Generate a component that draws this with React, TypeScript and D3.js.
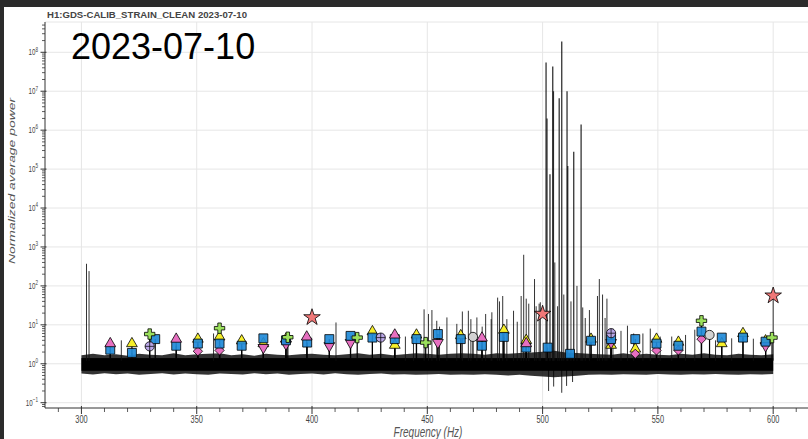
import React from 'react';
import * as d3 from 'd3';

// ---------- data ----------
const xTickValues = [300, 350, 400, 450, 500, 550, 600];
const yTickExponents = [-1, 0, 1, 2, 3, 4, 5, 6, 7, 8];

// noise floor envelope (outer fuzzy edge) and dense core
const bandFreqs = [300, 305, 310, 315, 320, 325, 330, 335, 340, 345, 350, 355, 360, 365, 370, 375, 380, 385, 390, 395, 400, 405, 410, 415, 420, 425, 430, 435, 440, 445, 450, 455, 460, 465, 470, 475, 480, 485, 490, 495, 500, 505, 510, 515, 520, 525, 530, 535, 540, 545, 550, 555, 560, 565, 570, 575, 580, 585, 590, 595, 600];
const bandUpper = [1.65, 1.8, 1.65, 1.75, 1.6, 1.8, 1.7, 1.65, 1.85, 1.65, 1.75, 1.8, 1.85, 1.65, 1.75, 1.6, 1.8, 1.7, 1.65, 1.75, 1.8, 1.7, 1.65, 1.75, 1.85, 1.7, 1.8, 1.65, 1.75, 1.85, 1.8, 1.7, 1.8, 1.85, 1.8, 1.7, 1.85, 1.8, 1.9, 1.95, 2.05, 2.15, 1.95, 1.9, 1.8, 1.75, 1.7, 1.85, 1.7, 1.8, 1.7, 1.65, 1.8, 1.7, 1.85, 1.7, 1.65, 1.8, 1.7, 1.65, 1.75];
const bandLower = [0.56, 0.53, 0.57, 0.54, 0.56, 0.52, 0.55, 0.57, 0.53, 0.56, 0.54, 0.52, 0.56, 0.55, 0.53, 0.57, 0.54, 0.56, 0.52, 0.55, 0.56, 0.53, 0.57, 0.54, 0.52, 0.55, 0.56, 0.53, 0.54, 0.52, 0.53, 0.55, 0.52, 0.53, 0.52, 0.54, 0.52, 0.5, 0.52, 0.49, 0.47, 0.45, 0.47, 0.49, 0.52, 0.53, 0.52, 0.54, 0.53, 0.52, 0.55, 0.53, 0.52, 0.54, 0.53, 0.55, 0.53, 0.52, 0.54, 0.53, 0.55];
const coreUpper = 1.4;
const coreLower = 0.66;

// spectral lines [frequency Hz, normalized power]
const spikes: [number, number][] = [
  [302.2, 370], [303.3, 240], [317.3, 4.0], [357.3, 6.0], [410.4, 11.5],
  [440.5, 5], [444.0, 6], [448.6, 25], [450.5, 19], [452.0, 24], [454.1, 12.7], [455.3, 9],
  [458.5, 15.5], [462.8, 10.6], [465.2, 22], [467.8, 23], [468.9, 14], [471.5, 15.5],
  [473.8, 9], [475.3, 19], [477.7, 14], [478.0, 21], [480.5, 50], [481.3, 40], [482.7, 55],
  [484.5, 14], [487.4, 23], [489.0, 12], [490.7, 55], [491.8, 630], [492.9, 47], [494.0, 35],
  [496.5, 150], [497.2, 30], [498.5, 35], [499.0, 38],
  [501.5, 5.5e7], [501.9, 2e6], [503.2, 7.4e4], [504.4, 4.3e7], [504.7, 1e7], [505.3, 400],
  [506.5, 30], [507.2, 6.6e6], [508.3, 1.9e8], [509.2, 60], [510.6, 1e7], [510.9, 1.2e5],
  [512.3, 40], [513.5, 2.8e5], [514.9, 100], [516.7, 1.4e6], [517.4, 28], [518.5, 15],
  [520.3, 24], [523.8, 55], [524.6, 150], [526.0, 60], [527.1, 15], [527.9, 47], [530.5, 8],
  [534.0, 7], [536.8, 9.5], [539.5, 6], [543.5, 6], [546.7, 8], [551, 5], [556, 5],
  [562, 5.5], [566, 7.5], [575, 4], [582, 4.5], [591.4, 4.4], [600, 56],
];
const downSpikes: [number, number][] = [
  [502.6, 0.2], [504.8, 0.26], [508.3, 0.18], [510.4, 0.27], [513.0, 0.34],
];

const blueSquares: [number, number][] = [
  [312.5, 2.3], [321.9, 1.9], [332.0, 4.3], [341.1, 2.9], [350.5, 3.3], [359.9, 3.3],
  [369.5, 2.9], [378.9, 4.5], [388.7, 4.0], [397.9, 3.5], [407.5, 4.3], [416.7, 5.2],
  [426.2, 4.7], [435.9, 4.3], [445.3, 4.3], [454.6, 5.8], [464.5, 4.3], [473.7, 2.9],
  [483.2, 4.9], [492.9, 2.6], [502.2, 2.6], [511.9, 1.8], [521.0, 3.9], [529.7, 4.3],
  [540.2, 4.3], [549.4, 3.3], [558.9, 2.9], [568.9, 6.7], [577.7, 4.7], [586.9, 4.7],
  [596.7, 3.7],
];
const yellowTriangles: [number, number][] = [
  [321.9, 3.3], [350.5, 4.3], [359.9, 4.9], [369.5, 3.9], [378.9, 3.3], [388.7, 4.3],
  [426.2, 6.7], [435.9, 3.0], [445.3, 5.5], [464.5, 5.3], [483.2, 7.3], [492.9, 4.0],
  [521.0, 4.3], [529.7, 3.0], [540.2, 2.4], [549.4, 4.3], [558.9, 3.6], [577.7, 3.3],
  [586.9, 6.0], [596.7, 3.9],
];
const pinkTriangles: [number, number][] = [
  [312.5, 3.3], [341.1, 4.3], [397.7, 4.9], [435.9, 5.5], [473.7, 4.6], [492.9, 3.3],
];
const pinkInverted: [number, number][] = [
  [378.9, 2.6], [388.7, 3.2], [407.5, 2.9], [416.7, 3.5], [454.6, 3.5], [529.7, 3.5], [596.7, 2.9],
];
const pinkDiamonds: [number, number][] = [
  [350.5, 2.1], [359.9, 2.2], [540.2, 1.8], [549.4, 2.2], [558.9, 2.2], [568.9, 4.3],
];
const greenCrosses: [number, number][] = [
  [329.6, 5.8], [359.9, 8.2], [389.5, 4.8], [419.6, 4.7], [449.3, 3.5], [568.9, 12.7], [599.5, 4.7],
];
const lavenderCircles: [number, number][] = [[329.6, 2.8], [429.8, 4.7], [529.7, 6.1]];
const greyCircles: [number, number][] = [[469.8, 4.9], [572.4, 5.5]];
const redStars: [number, number][] = [[400, 15.5], [500, 19], [600, 56]];

// ---------- layout ----------
const W = 808, H = 439;
const plotL = 45, plotT = 22, plotR = 808, plotB = 408;
const SY = 1.45; // vertical stretch of the plot texts
const FONT = '"Liberation Sans", Arial, Helvetica, sans-serif';

const x = d3.scaleLinear().domain([284.2, 615.1]).range([plotL, plotR]);
const y = d3.scaleLog().domain([Math.pow(10, -1.136), Math.pow(10, 8.778)]).range([plotB, plotT]);

const sym = (t: d3.SymbolType, s: number) => d3.symbol().type(t).size(s)() as string;

export default function App() {
  const bandArea = d3.area<number>()
    .x((d) => x(d))
    .y0((_, i) => y(bandLower[i]))
    .y1((_, i) => y(bandUpper[i]))(bandFreqs) as string;

  const xMinor = d3.range(290, 615, 10).filter((v) => v % 50 !== 0);
  const yMinor: number[] = [];
  for (let e = -2; e <= 8; e++) for (let k = 2; k <= 9; k++) {
    const v = k * Math.pow(10, e);
    const py = y(v);
    if (py >= plotT && py <= plotB) yMinor.push(v);
  }

  const allMarks = [
    ...blueSquares, ...yellowTriangles, ...pinkTriangles, ...pinkInverted,
    ...pinkDiamonds, ...greenCrosses, ...lavenderCircles, ...greyCircles,
  ];

  const triPath = sym(d3.symbolTriangle, 50);
  const sqPath = sym(d3.symbolSquare, 80);
  const crossPath = sym(d3.symbolCross, 60);
  const starPath = sym(d3.symbolStar, 85);
  const diamPath = sym(d3.symbolDiamond2, 55);
  const f0 = bandFreqs[0], f1 = bandFreqs[bandFreqs.length - 1];

  return (
    <svg width={W} height={H} style={{ position: 'absolute', left: 0, top: 0, display: 'block', background: '#fff' }} fontFamily={FONT}>
      <rect x={0} y={0} width={W} height={H} fill="#fff" />
      {/* grid */}
      {xTickValues.map((v) => (
        <line key={'gx' + v} x1={x(v)} x2={x(v)} y1={plotT} y2={plotB} stroke="#e6e6e6" strokeWidth={1} />
      ))}
      {yTickExponents.map((e) => (
        <line key={'gy' + e} x1={plotL} x2={plotR} y1={y(Math.pow(10, e))} y2={y(Math.pow(10, e))} stroke="#e6e6e6" strokeWidth={1} />
      ))}
      <line x1={plotL} x2={plotR} y1={plotT} y2={plotT} stroke="#e6e6e6" />

      {/* noise band */}
      <path d={bandArea} fill="#000" fillOpacity={0.8} />
      <rect x={x(f0)} width={x(f1) - x(f0)} y={y(coreUpper)} height={y(coreLower) - y(coreUpper)} fill="#000" />
      {/* spectral lines */}
      {spikes.map(([f, v], i) => (
        <line key={'s' + i} x1={x(f)} x2={x(f)} y1={y(1.2)} y2={y(v)} stroke="#111" strokeOpacity={0.85} strokeWidth={v > 1000 ? 1.3 : 1} />
      ))}
      {downSpikes.map(([f, v], i) => (
        <line key={'d' + i} x1={x(f)} x2={x(f)} y1={y(0.8)} y2={y(v)} stroke="#000" strokeOpacity={0.8} strokeWidth={1} />
      ))}
      {allMarks.map(([f, v], i) => (
        <line key={'m' + i} x1={x(f)} x2={x(f)} y1={y(1.4)} y2={y(v)} stroke="#000" strokeWidth={1.2} />
      ))}

      {/* markers */}
      {yellowTriangles.map(([f, v], i) => (
        <path key={'yt' + i} d={triPath} transform={`translate(${x(f)},${y(v)})`} fill="#f6ef2a" stroke="#000" strokeWidth={0.8} />
      ))}
      {pinkInverted.map(([f, v], i) => (
        <path key={'pi' + i} d={triPath} transform={`translate(${x(f)},${y(v)}) rotate(180)`} fill="#e66fc0" stroke="#000" strokeWidth={0.8} />
      ))}
      {pinkDiamonds.map(([f, v], i) => (
        <path key={'pd' + i} d={diamPath} transform={`translate(${x(f)},${y(v)})`} fill="#e66fc0" stroke="#000" strokeWidth={0.8} />
      ))}
      {blueSquares.map(([f, v], i) => (
        <path key={'bs' + i} d={sqPath} transform={`translate(${x(f)},${y(v)})`} fill="#1f8ad8" fillOpacity={0.92} stroke="#000" strokeWidth={0.8} />
      ))}
      {pinkTriangles.map(([f, v], i) => (
        <path key={'pt' + i} d={triPath} transform={`translate(${x(f)},${y(v)})`} fill="#e66fc0" stroke="#000" strokeWidth={0.8} />
      ))}
      {lavenderCircles.map(([f, v], i) => (
        <g key={'lc' + i} transform={`translate(${x(f)},${y(v)})`}>
          <circle r={4.6} fill="#b9a6e6" stroke="#000" strokeWidth={0.8} />
          <line x1={-4.6} x2={4.6} y1={0} y2={0} stroke="#000" strokeWidth={0.7} />
          <line x1={0} x2={0} y1={-4.6} y2={4.6} stroke="#000" strokeWidth={0.7} />
        </g>
      ))}
      {greyCircles.map(([f, v], i) => (
        <circle key={'gc' + i} cx={x(f)} cy={y(v)} r={4.6} fill="#d2d2d2" stroke="#000" strokeWidth={0.8} />
      ))}
      {greenCrosses.map(([f, v], i) => (
        <path key={'gr' + i} d={crossPath} transform={`translate(${x(f)},${y(v)})`} fill="#9be05c" stroke="#000" strokeWidth={0.8} />
      ))}
      {redStars.map(([f, v], i) => (
        <path key={'rs' + i} d={starPath} transform={`translate(${x(f)},${y(v)})`} fill="#f07878" stroke="#000" strokeWidth={0.8} />
      ))}

      {/* axes */}
      <line x1={plotL} x2={plotL} y1={plotT} y2={plotB} stroke="#333" strokeWidth={1} />
      <line x1={plotL} x2={plotR} y1={plotB} y2={plotB} stroke="#333" strokeWidth={1} />
      {yTickExponents.map((e) => (
        <line key={'ty' + e} x1={plotL - 4.5} x2={plotL + 1.5} y1={y(Math.pow(10, e))} y2={y(Math.pow(10, e))} stroke="#333" />
      ))}
      {yMinor.map((v, i) => (
        <line key={'tym' + i} x1={plotL - 3} x2={plotL} y1={y(v)} y2={y(v)} stroke="#333" strokeWidth={0.8} />
      ))}
      {xTickValues.map((v) => (
        <line key={'tx' + v} x1={x(v)} x2={x(v)} y1={plotB - 2} y2={plotB + 6} stroke="#333" />
      ))}
      {xMinor.map((v) => (
        <line key={'txm' + v} x1={x(v)} x2={x(v)} y1={plotB} y2={plotB + 4} stroke="#333" strokeWidth={0.8} />
      ))}

      {/* tick labels */}
      {yTickExponents.map((e) => (
        <text key={'ly' + e} transform={`translate(38,${y(Math.pow(10, e)) + 2.8}) scale(1,${SY})`} textAnchor="end" fontSize={6.2} fill="#444">
          10<tspan fontSize={4.6} dy={-2.4}>{e < 0 ? '\u2212' + Math.abs(e) : String(e)}</tspan>
        </text>
      ))}
      {xTickValues.map((v) => (
        <text key={'lx' + v} transform={`translate(${x(v)},422.5) scale(1,${SY})`} textAnchor="middle" fontSize={7.4} fill="#444">
          {String(v)}
        </text>
      ))}

      {/* axis labels */}
      <text transform={`translate(428,436.5) scale(1,${SY})`} textAnchor="middle" fontSize={10} fontStyle="italic" fill="#555">
        Frequency (Hz)
      </text>
      <text transform={`translate(14.6,181) scale(1,${SY}) rotate(-90)`} textAnchor="middle" fontSize={9.6} fontStyle="italic" fill="#555">
        Normalized average power
      </text>

      {/* titles */}
      <text x={47} y={17.5} fontSize={9.6} fontWeight="bold" fill="#444" textLength={200} lengthAdjust="spacingAndGlyphs">
        H1:GDS-CALIB_STRAIN_CLEAN 2023-07-10
      </text>
      <text x={71} y={59} fontSize={36} fill="#000">2023-07-10</text>

      {/* dark frame */}
      <rect x={0} y={0} width={W} height={7} fill="#2b2b2b" />
      <rect x={0} y={0} width={4} height={H} fill="#2b2b2b" />
    </svg>
  );
}
